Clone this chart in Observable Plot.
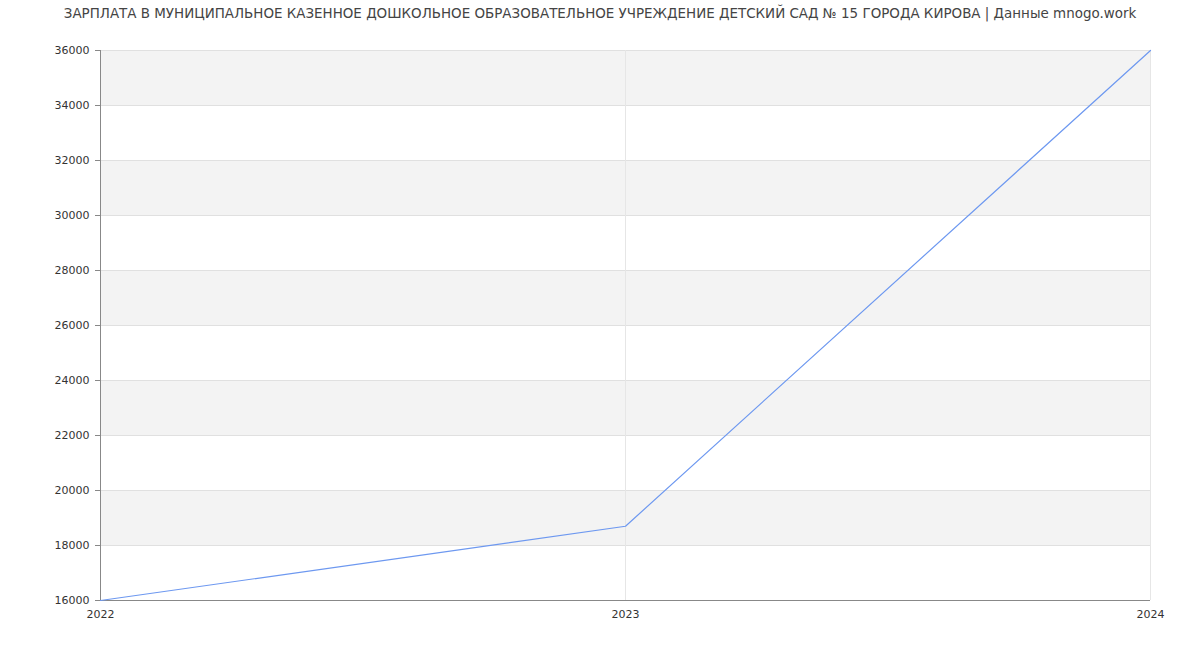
<!DOCTYPE html>
<html>
<head>
<meta charset="utf-8">
<script src="https://cdn.jsdelivr.net/npm/d3@7"></script>
<script src="https://cdn.jsdelivr.net/npm/@observablehq/plot@0.6"></script>
<style>
  body { margin: 0; background: #fff; font-family: "DejaVu Sans", sans-serif; }
  #title { height: 28px; line-height: 28px; text-align: center; font-size: 13.45px; color: #444; white-space: nowrap; }
</style>
</head>
<body>
<div id="title">ЗАРПЛАТА В МУНИЦИПАЛЬНОЕ КАЗЕННОЕ ДОШКОЛЬНОЕ ОБРАЗОВАТЕЛЬНОЕ УЧРЕЖДЕНИЕ ДЕТСКИЙ САД № 15 ГОРОДА КИРОВА | Данные mnogo.work</div>
<div id="chart"></div>
<script>
const years = [2022, 2023, 2024];
const salaries = [16000, 18700, 36000];
const yTicks = [16000, 18000, 20000, 22000, 24000, 26000, 28000, 30000, 32000, 34000, 36000];
const bandStarts = [18000, 22000, 26000, 30000, 34000];
const bandSize = 2000;

const data = years.map((y, i) => ({year: y, value: salaries[i]}));
const bands = bandStarts.map(s => ({y1: s, y2: s + bandSize}));

const chart = Plot.plot({
  width: 1200,
  height: 622,
  marginTop: 22,
  marginBottom: 50,
  marginLeft: 100,
  marginRight: 50,
  style: {fontFamily: "DejaVu Sans, sans-serif", fontSize: "11px", color: "#333", background: "#fff"},
  x: {type: "linear", domain: [2022, 2024], ticks: years, tickFormat: d => String(d), label: null, tickSize: 0, tickPadding: 10},
  y: {domain: [16000, 36000], ticks: yTicks, tickFormat: d => String(d), label: null, tickSize: 5, tickPadding: 6},
  marks: [
    Plot.rect(bands, {y1: "y1", y2: "y2", fill: "#f3f3f3"}),
    Plot.ruleY(yTicks, {stroke: "#e0e0e0", strokeWidth: 1}),
    Plot.ruleX(years.slice(1), {stroke: "#e6e6e6", strokeWidth: 1}),
    Plot.axisY({ticks: yTicks, tickFormat: d => String(d), tickSize: 5, tickPadding: 6, stroke: "#888", label: null}),
    Plot.axisX({ticks: years, tickFormat: d => String(d), tickSize: 0, tickPadding: 10, label: null}),
    Plot.ruleX([2022], {stroke: "#888"}),
    Plot.ruleY([16000], {stroke: "#888"}),
    Plot.line(data, {x: "year", y: "value", stroke: "#6d98f0", strokeWidth: 1.2})
  ]
});
document.getElementById("chart").appendChild(chart);
</script>
</body>
</html>
